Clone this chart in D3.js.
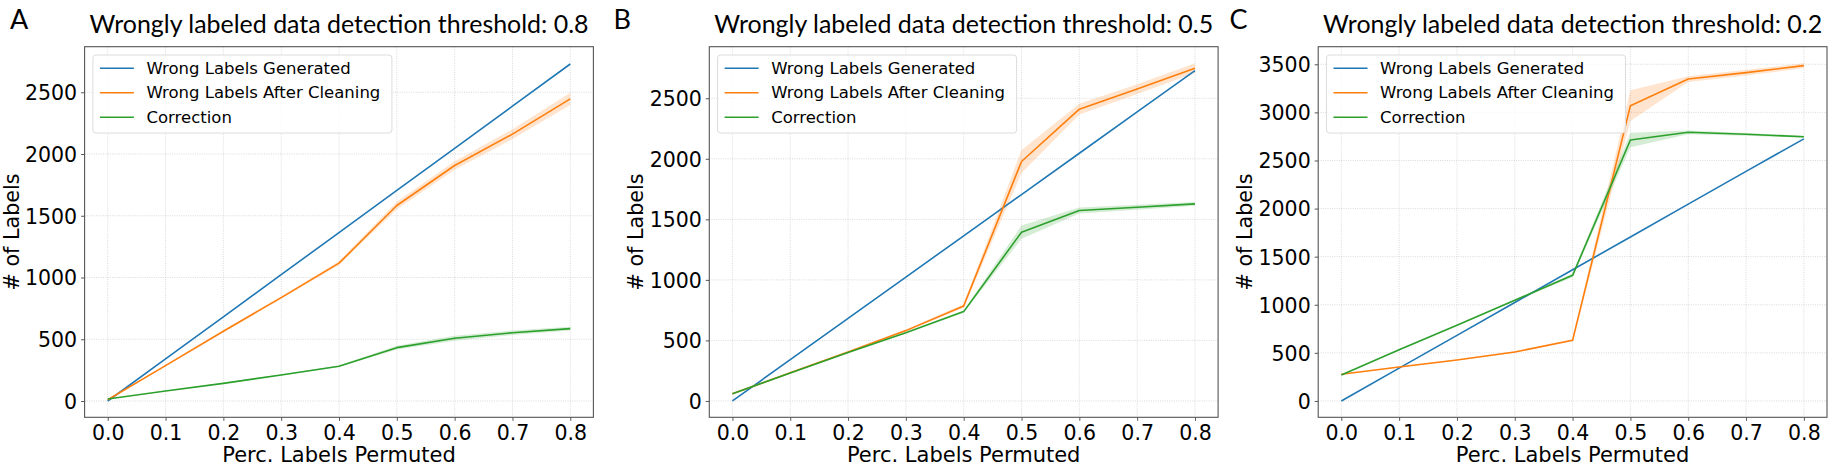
<!DOCTYPE html>
<html>
<head>
<meta charset="utf-8">
<script src="https://cdn.jsdelivr.net/npm/d3@7/dist/d3.min.js"></script>
<style>
  html, body { margin: 0; padding: 0; background: #fff; }
  svg { display: block; font-family: "DejaVu Sans", sans-serif; }
</style>
</head>
<body>
<svg id="chart" width="1832" height="471"></svg>
<script>
// ---------- data ----------
const xValues = [0.0, 0.1, 0.2, 0.3, 0.4, 0.5, 0.6, 0.7, 0.8];
const xTickLabels = ["0.0", "0.1", "0.2", "0.3", "0.4", "0.5", "0.6", "0.7", "0.8"];
const seriesNames = ["Wrong Labels Generated", "Wrong Labels After Cleaning", "Correction"];
const panelLetters = ["A", "B", "C"];
const panelTitles = [
  "Wrongly labeled data detection threshold: 0.8",
  "Wrongly labeled data detection threshold: 0.5",
  "Wrongly labeled data detection threshold: 0.2"
];

const generatedA = [0, 341, 682, 1023, 1364, 1705, 2046, 2387, 2729];
const cleanedA   = [10, 286, 565, 837, 1116, 1583, 1907, 2161, 2447];
const cleanedErrA = [0, 5, 8, 10, 15, 30, 35, 40, 50];
const correctionA = [16, 81, 143, 211, 281, 432, 508, 553, 586];
const correctionErrA = [0, 3, 4, 5, 6, 15, 20, 18, 15];

const generatedB = [0, 341, 682, 1023, 1364, 1705, 2046, 2387, 2729];
const cleanedB   = [60, 232, 405, 581, 785, 1978, 2410, 2576, 2749];
const cleanedErrB = [0, 5, 8, 10, 15, 95, 45, 40, 40];
const correctionB = [60, 230, 400, 564, 738, 1394, 1573, 1600, 1628];
const correctionErrB = [0, 3, 4, 5, 10, 55, 25, 20, 15];

const generatedC = [0, 341, 682, 1023, 1364, 1705, 2046, 2387, 2725];
const cleanedC   = [277, 353, 426, 509, 631, 3070, 3347, 3413, 3486];
const cleanedErrC = [0, 5, 5, 8, 10, 160, 30, 30, 25];
const correctionC = [270, 533, 787, 1047, 1306, 2713, 2793, 2772, 2747];
const correctionErrC = [0, 5, 5, 8, 20, 75, 20, 15, 10];

const yTicksA = [0, 500, 1000, 1500, 2000, 2500];
const yTicksB = [0, 500, 1000, 1500, 2000, 2500];
const yTicksC = [0, 500, 1000, 1500, 2000, 2500, 3000, 3500];

// ---------- layout ----------
const colors = ["#1f77b4", "#ff7f0e", "#2ca02c"];
const panels = [
  { letter: panelLetters[0], title: panelTitles[0], gen: generatedA, clean: cleanedA, cleanErr: cleanedErrA,
    corr: correctionA, corrErr: correctionErrA, yTicks: yTicksA, yDomain: [-132, 2869],
    left: 84.6, letterX: 10 },
  { letter: panelLetters[1], title: panelTitles[1], gen: generatedB, clean: cleanedB, cleanErr: cleanedErrB,
    corr: correctionB, corrErr: correctionErrB, yTicks: yTicksB, yDomain: [-135, 2926],
    left: 709.3, letterX: 613.6 },
  { letter: panelLetters[2], title: panelTitles[2], gen: generatedC, clean: cleanedC, cleanErr: cleanedErrC,
    corr: correctionC, corrErr: correctionErrC, yTicks: yTicksC, yDomain: [-170, 3683],
    left: 1318.2, letterX: 1229.6 }
];
const plotW = 508.8;
const plotTop = 46.7, plotBottom = 417.3;
const FONT = "'DejaVu Sans', sans-serif";
const TITLE_FONT = "Lato, 'Open Sans', sans-serif";

const svg = d3.select("#chart");

panels.forEach(p => {
  const right = p.left + plotW;
  const x = d3.scaleLinear().domain([-0.04, 0.84]).range([p.left, right]);
  const y = d3.scaleLinear().domain(p.yDomain).range([plotBottom, plotTop]);
  const g = svg.append("g");

  // grid
  g.append("g").selectAll("line").data(xValues).join("line")
    .attr("x1", d => x(d)).attr("x2", d => x(d)).attr("y1", plotTop).attr("y2", plotBottom)
    .attr("stroke", "#d0d0d0").attr("stroke-width", 0.8).attr("stroke-dasharray", "1,1.3");
  g.append("g").selectAll("line").data(p.yTicks).join("line")
    .attr("x1", p.left).attr("x2", right).attr("y1", d => y(d)).attr("y2", d => y(d))
    .attr("stroke", "#d0d0d0").attr("stroke-width", 0.8).attr("stroke-dasharray", "1,1.3");

  // axes
  const xAxis = d3.axisBottom(x).tickValues(xValues).tickFormat((d, i) => xTickLabels[i]).tickSize(3.5).tickPadding(4);
  const xg = g.append("g").attr("transform", `translate(0,${plotBottom})`).call(xAxis);
  const yAxis = d3.axisLeft(y).tickValues(p.yTicks).tickFormat(d3.format("d")).tickSize(3.5).tickPadding(4);
  const yg = g.append("g").attr("transform", `translate(${p.left},0)`).call(yAxis);
  [xg, yg].forEach(a => {
    a.select(".domain").remove();
    a.selectAll(".tick line").attr("stroke", "#555");
    a.selectAll(".tick text").attr("fill", "#000").style("font-family", FONT).style("font-size", "20.5px");
  });
  xg.selectAll(".tick text").attr("dy", null).attr("y", 440 - plotBottom);
  yg.selectAll(".tick text").attr("dy", "0.36em");

  // bands
  const area = (vals, errs) => d3.area()
    .x((d, i) => x(xValues[i]))
    .y0((d, i) => y(vals[i] - errs[i]))
    .y1((d, i) => y(vals[i] + errs[i]))(vals);
  g.append("path").attr("d", area(p.clean, p.cleanErr)).attr("fill", colors[1]).attr("fill-opacity", 0.2);
  g.append("path").attr("d", area(p.corr, p.corrErr)).attr("fill", colors[2]).attr("fill-opacity", 0.2);

  // lines
  const line = vals => d3.line().x((d, i) => x(xValues[i])).y(d => y(d))(vals);
  [p.gen, p.clean, p.corr].forEach((vals, k) => {
    g.append("path").attr("d", line(vals)).attr("fill", "none")
      .attr("stroke", colors[k]).attr("stroke-width", 1.6).attr("stroke-linejoin", "round");
  });

  // frame
  g.append("rect").attr("x", p.left).attr("y", plotTop).attr("width", plotW).attr("height", plotBottom - plotTop)
    .attr("fill", "none").attr("stroke", "#555").attr("stroke-width", 1.1);

  // legend
  const lx = p.left + 8.3, ly = 55;
  const lg = g.append("g");
  lg.append("rect").attr("x", lx).attr("y", ly).attr("width", 299).attr("height", 78)
    .attr("rx", 3).attr("fill", "#fff").attr("fill-opacity", 0.8).attr("stroke", "#dcdcdc").attr("stroke-width", 1);
  seriesNames.forEach((name, k) => {
    const ry = 68.3 + k * 24.5;
    lg.append("line").attr("x1", lx + 7).attr("x2", lx + 41).attr("y1", ry).attr("y2", ry)
      .attr("stroke", colors[k]).attr("stroke-width", 1.6);
    lg.append("text").attr("x", lx + 53.6).attr("y", ry + 5.3).text(name)
      .style("font-family", FONT).style("font-size", "16.5px").attr("fill", "#000");
  });

  // labels
  const cx = p.left + plotW / 2;
  g.append("text").attr("x", cx).attr("y", 33.3).attr("text-anchor", "middle").text(p.title)
    .attr("textLength", 499).attr("lengthAdjust", "spacingAndGlyphs")
    .style("font-family", TITLE_FONT).style("font-size", "25.5px").attr("fill", "#000");
  g.append("text").attr("x", cx).attr("y", 461.7).attr("text-anchor", "middle").text("Perc. Labels Permuted")
    .style("font-family", FONT).style("font-size", "21px").attr("fill", "#000");
  g.append("text").attr("transform", `translate(${p.left - 66},${(plotTop + plotBottom) / 2}) rotate(-90)`)
    .attr("text-anchor", "middle").text("# of Labels")
    .style("font-family", FONT).style("font-size", "20.7px").attr("fill", "#000");
  g.append("text").attr("x", p.letterX).attr("y", 29.3).text(p.letter)
    .style("font-family", TITLE_FONT).style("font-size", "27px").attr("fill", "#000");
});
</script>
</body>
</html>
